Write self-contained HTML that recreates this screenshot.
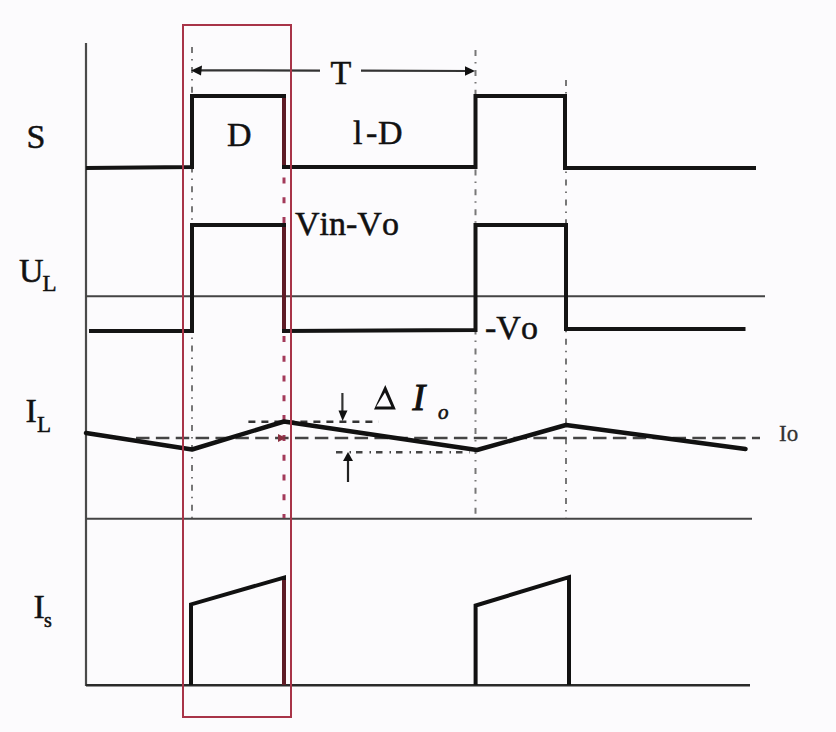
<!DOCTYPE html>
<html>
<head>
<meta charset="utf-8">
<style>
html,body{margin:0;padding:0;background:#fcfbfd;}
body{width:836px;height:732px;overflow:hidden;}
svg{display:block;}
text{font-family:"Liberation Serif",serif;fill:#111;}
</style>
</head>
<body>
<svg width="836" height="732" viewBox="0 0 836 732">
<rect x="0" y="0" width="836" height="732" fill="#fcfbfd"/>

<!-- vertical axis -->
<line x1="86" y1="43" x2="86" y2="686" stroke="#4a4a4a" stroke-width="2.2"/>

<!-- separators -->
<line x1="86" y1="296.3" x2="765" y2="296.3" stroke="#444" stroke-width="2"/>
<line x1="86" y1="518.7" x2="752" y2="518.7" stroke="#444" stroke-width="2"/>
<line x1="86" y1="685.2" x2="750" y2="685.2" stroke="#2a2a2a" stroke-width="2.5"/>

<!-- dash-dot verticals -->
<g stroke="#777" stroke-width="2" fill="none">
  <line x1="192" y1="47" x2="192" y2="518" stroke-dasharray="6 6 1.5 6.4"/>
  <line x1="475.5" y1="50" x2="475.5" y2="518" stroke-dasharray="6 6 1.5 6.4"/>
  <line x1="566" y1="80" x2="566" y2="518" stroke-dasharray="6 6 1.5 6.4"/>
</g>
<!-- red dashed vertical -->
<line x1="284" y1="177.5" x2="284" y2="518" stroke="#a33a5a" stroke-width="3" stroke-dasharray="6 13.8"/>

<!-- T arrow -->
<g stroke="#333" stroke-width="2.2">
  <line x1="196" y1="70.3" x2="320" y2="70.6"/>
  <line x1="361" y1="70.7" x2="470" y2="71"/>
</g>
<path d="M191,70.5 L202,65.5 L201,75.5 Z" fill="#111"/>
<path d="M475,71 L465,66.3 L465,75.8 Z" fill="#111"/>

<!-- S waveform -->
<path d="M86,168 L192,167 L192,96 L284,96 L284,167 L475.5,167 L475.5,96 L565,96 L565,168 L756,168" fill="none" stroke="#141414" stroke-width="4" stroke-linejoin="miter"/>

<!-- UL waveform -->
<path d="M89,331 L192,331 L192,225 L284,225 L284,331 L475.5,330 L475.5,225 L566,225 L566,329 L745.5,329" fill="none" stroke="#141414" stroke-width="4"/>

<!-- IL dashed lines -->
<line x1="136" y1="438" x2="760" y2="438" stroke="#444" stroke-width="2.6" stroke-dasharray="13.5 6.37"/>
<line x1="248.4" y1="421.8" x2="378.5" y2="421.8" stroke="#333" stroke-width="2.6" stroke-dasharray="7 6"/>
<line x1="336" y1="452.3" x2="470" y2="452.3" stroke="#444" stroke-width="2.4" stroke-dasharray="6.5 7 1.5 5"/>

<!-- IL waveform -->
<path d="M86,433 L192,449.5 L284,421.5 L477,450 L566,425 L745.5,449" fill="none" stroke="#111" stroke-width="4.5" stroke-linejoin="round" stroke-linecap="round"/>

<!-- delta arrows -->
<line x1="342.4" y1="393" x2="342.4" y2="413" stroke="#333" stroke-width="2.2"/>
<path d="M338.5,410.5 L347.5,410.5 L342.6,421 Z" fill="#111"/>
<line x1="348" y1="458" x2="348" y2="482" stroke="#222" stroke-width="2.2"/>
<path d="M343,461 L353,461 L348,452 Z" fill="#111"/>
<!-- red arrow artifact -->
<path d="M278,434 L286,438 L278,442 Z" fill="#8a3040"/>

<!-- Is waveform -->
<path d="M191,685 L191,604.4 L284,577.6 L284,685" fill="none" stroke="#111" stroke-width="4"/>
<path d="M475.6,685 L475.6,605.5 L569,577.2 L569,685" fill="none" stroke="#111" stroke-width="4"/>

<!-- dark red verticals at x=284 -->
<g stroke="#5e1c26" stroke-width="4">
<line x1="284" y1="98" x2="284" y2="165"/>
<line x1="284" y1="227" x2="284" y2="329"/>
<line x1="284" y1="580" x2="284" y2="685"/>
</g>
<!-- red rectangle -->
<rect x="183" y="25" width="108" height="692" fill="none" stroke="#a83448" stroke-width="2"/>

<!-- labels -->
<g style="font-kerning:none" stroke="#111" stroke-width="0.5">
<text x="26.5" y="148" font-size="34">S</text>
<text x="19" y="281.6" font-size="34">U</text>
<text x="42.5" y="290.7" font-size="23">L</text>
<text x="25.5" y="421.8" font-size="34">I</text>
<text x="37" y="432" font-size="23">L</text>
<text x="33.5" y="617.5" font-size="34">I</text>
<text x="44" y="627" font-size="20">s</text>
<text x="227" y="146" font-size="34">D</text>
<text x="353" y="144.2" font-size="34">l</text>
<text x="366" y="144.2" font-size="34">-</text>
<text x="378" y="144.2" font-size="34">D</text>
<text x="330.5" y="84.4" font-size="34">T</text>
<text x="295" y="235.2" font-size="34">Vin-Vo</text>
<text x="485" y="339.3" font-size="34">-Vo</text>
<text x="412.5" y="409.5" font-size="38" font-style="italic" stroke-width="1">I</text>
<text x="438" y="418.5" font-size="21" font-style="italic" stroke-width="0.6">o</text>
<text x="779" y="441" font-size="23" style="fill:#333" stroke="#333" stroke-width="0.3">Io</text>
</g>
<path d="M385.3,385 L374,409.5 L395.8,409.5 Z M385,392.5 L376.3,406.5 L391.3,406.5 Z" fill="#111" fill-rule="evenodd"/>
</svg>
</body>
</html>
